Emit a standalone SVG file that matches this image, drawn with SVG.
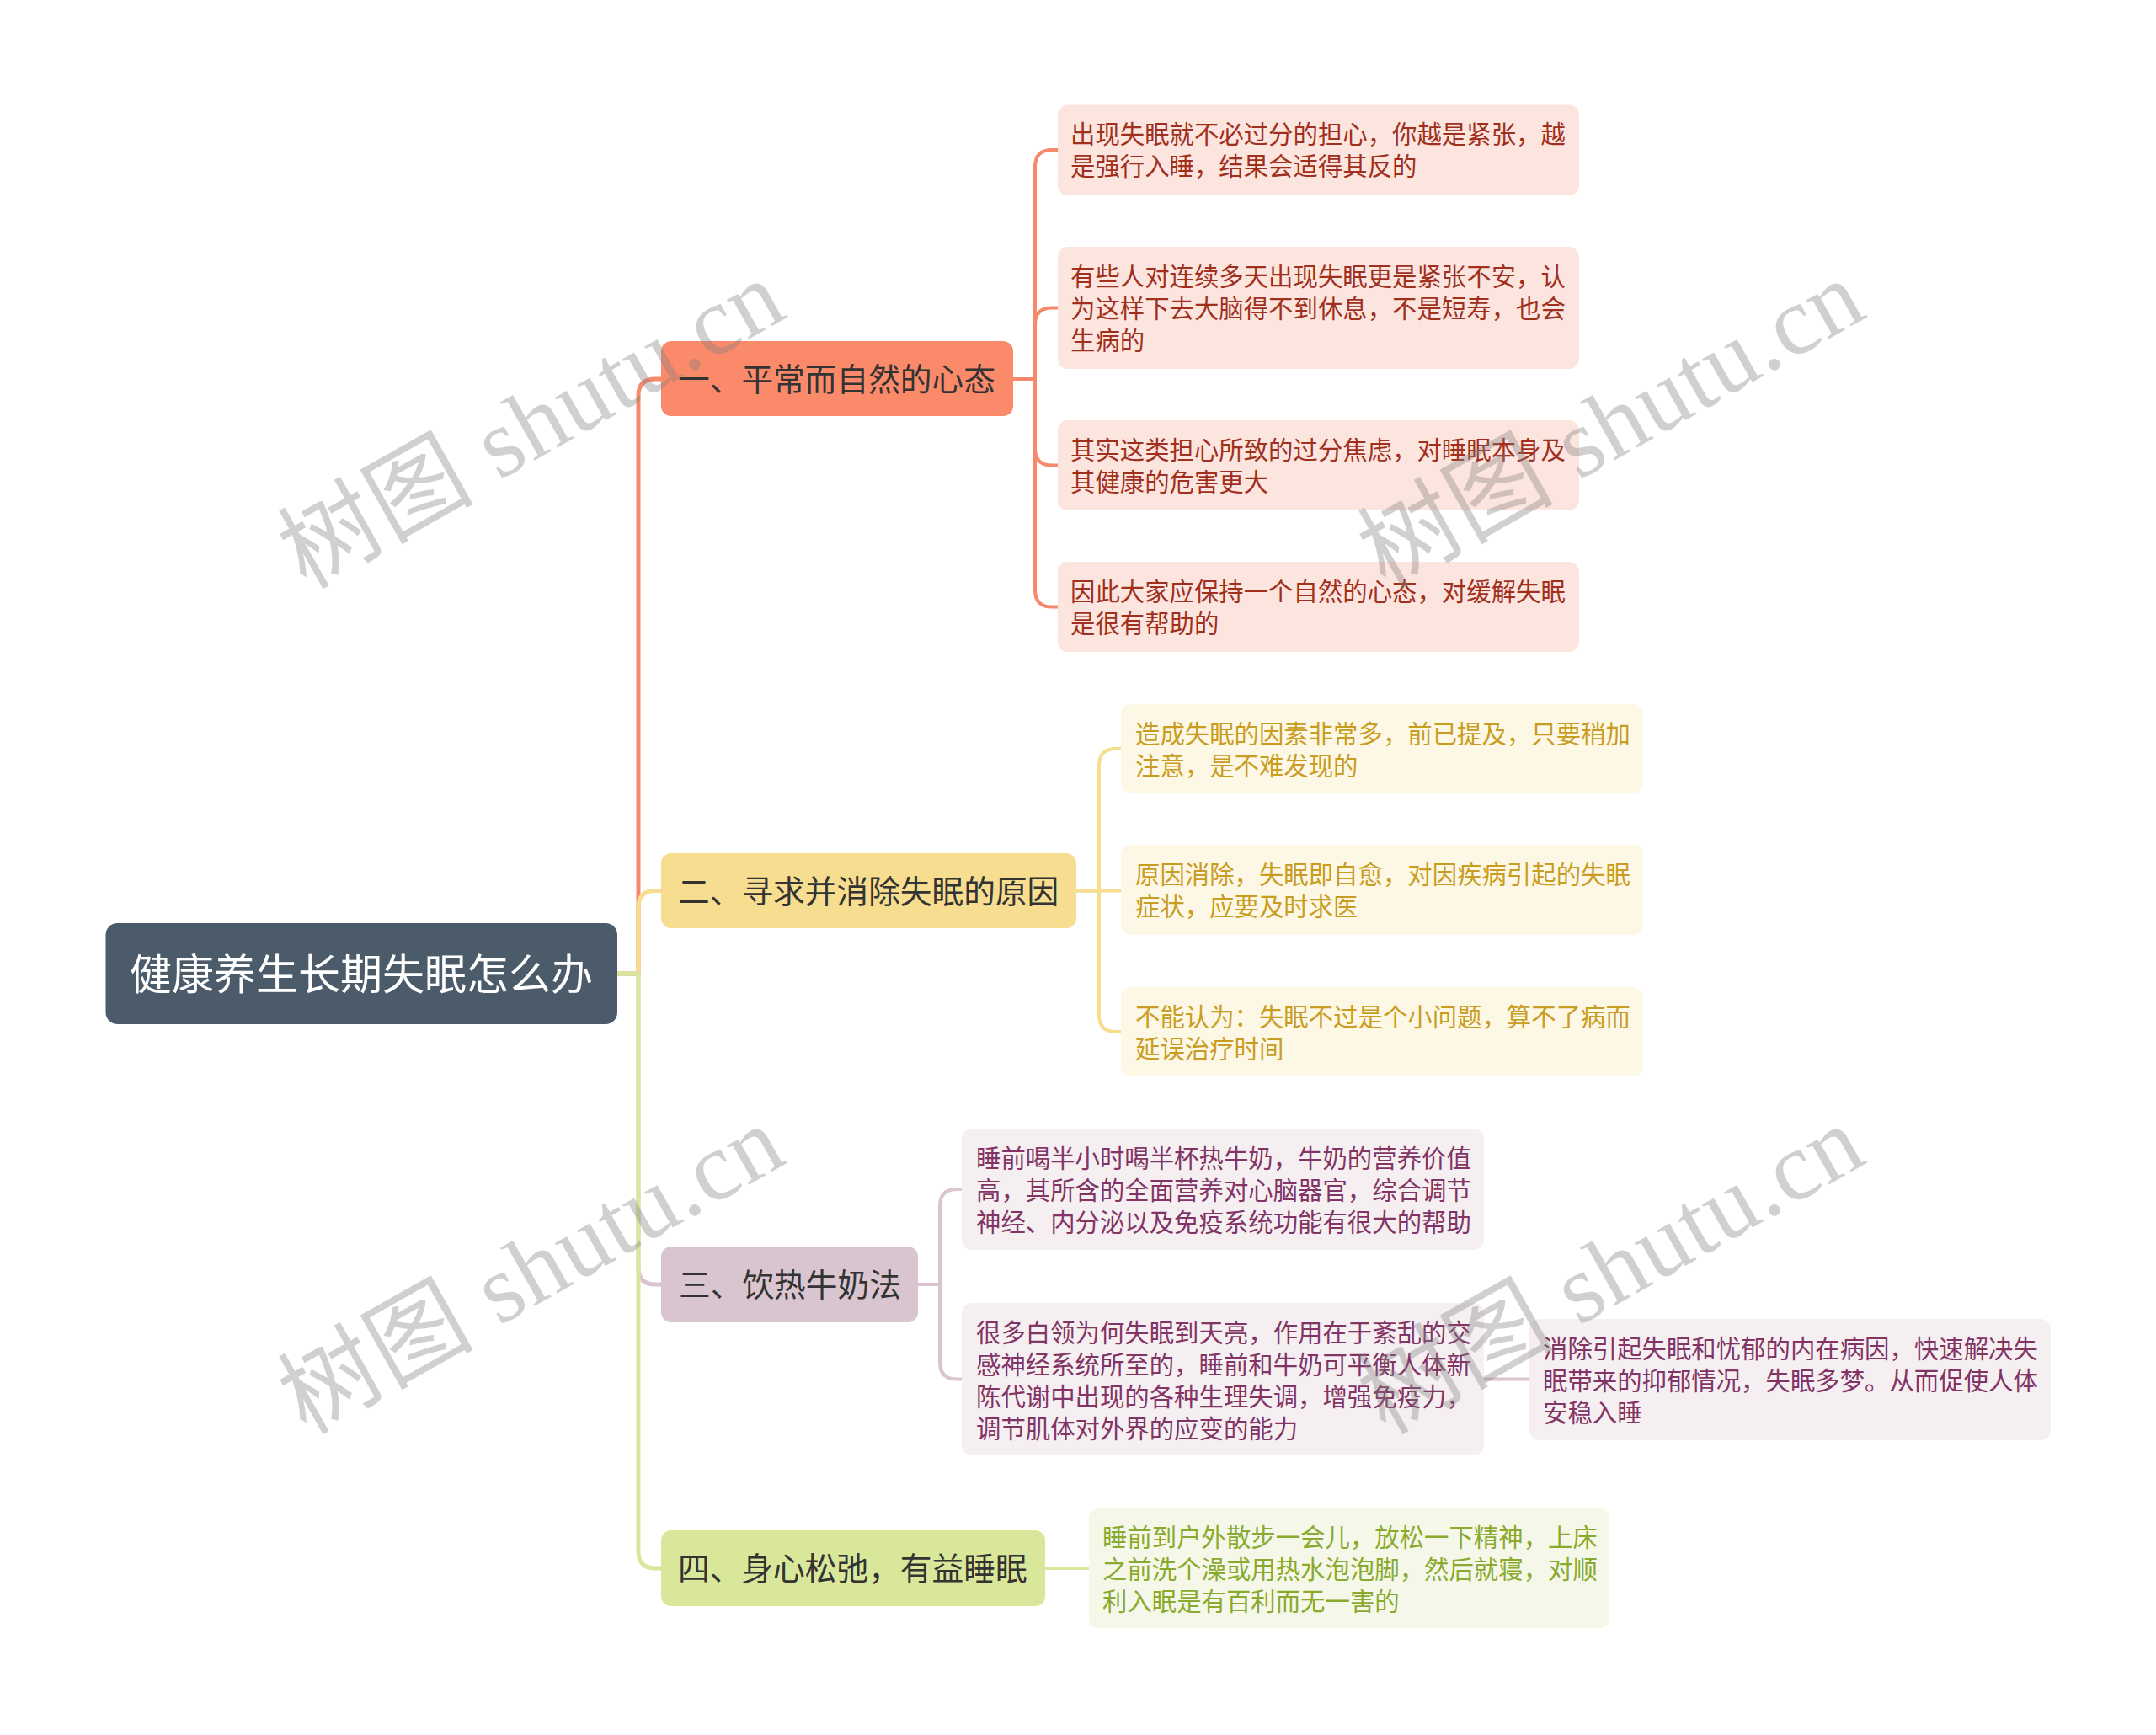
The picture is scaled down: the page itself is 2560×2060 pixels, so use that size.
<svg xmlns="http://www.w3.org/2000/svg" width="2560" height="2060" viewBox="0 0 2560 2060">
<style>
.t{font-family:"Noto Sans CJK SC","Noto Sans",sans-serif;}
.main{font-size:37.7px;fill:#333333;}
.sub{font-size:29.4px;}
.c{fill:none;stroke-linecap:round;stroke-linejoin:round;}
.b1{stroke:#f6896b;}
.b2{stroke:#f6dd90;}
.b3{stroke:#d9c4cf;}
.b4{stroke:#d9e69b;}
.wm{font-family:"Liberation Serif","Noto Sans CJK SC",serif;font-size:116px;fill:#808080;opacity:0.36;}
</style>
<rect width="2560" height="2060" fill="#ffffff"/>
<g id="connectors">
  <g stroke-width="5">
    <path class="c b1" d="M733,1156 H758 V470 Q758,450 778,450 H786"/>
    <path class="c b2" d="M733,1156 H758 V1077.5 Q758,1057.5 778,1057.5 H786"/>
    <path class="c b3" d="M733,1156 H758 V1505 Q758,1525 778,1525 H786"/>
    <path class="c b4" d="M733,1156 H758 V1842 Q758,1862 778,1862 H786"/>
  </g>
  <g stroke-width="4">
    <path class="c b1" d="M1203,450 H1229 V198 Q1229,178 1249,178 H1257"/>
    <path class="c b1" d="M1203,450 H1229 V385.5 Q1229,365.5 1249,365.5 H1257"/>
    <path class="c b1" d="M1203,450 H1229 V532.5 Q1229,552.5 1249,552.5 H1257"/>
    <path class="c b1" d="M1203,450 H1229 V700.5 Q1229,720.5 1249,720.5 H1257"/>
    <path class="c b2" d="M1278,1057.5 H1305 V909 Q1305,889 1325,889 H1332"/>
    <path class="c b2" d="M1278,1057.5 H1332"/>
    <path class="c b2" d="M1278,1057.5 H1305 V1205 Q1305,1225 1325,1225 H1332"/>
    <path class="c b3" d="M1090,1525 H1116 V1432 Q1116,1412 1136,1412 H1143"/>
    <path class="c b3" d="M1090,1525 H1116 V1617.5 Q1116,1637.5 1136,1637.5 H1143"/>
    <path class="c b3" d="M1762,1637.5 H1816"/>
    <path class="c b4" d="M1241,1862 H1293"/>
  </g>
</g>
<g id="root">
  <rect x="125.5" y="1096" width="607.5" height="120" rx="14" fill="#4b5b6a"/>
  <text class="t" x="429" y="1175" font-size="50" fill="#ffffff" text-anchor="middle">健康养生长期失眠怎么办</text>
</g>
<g id="n1">
  <rect x="785" y="405" width="418" height="89" rx="12" fill="#fb8a6b"/>
  <text class="t main" x="805" y="464">一、平常而自然的心态</text>
</g>
<g id="n2">
  <rect x="785" y="1013" width="493" height="89" rx="12" fill="#f7dd8f"/>
  <text class="t main" x="805" y="1072">二、寻求并消除失眠的原因</text>
</g>
<g id="n3">
  <rect x="785" y="1480" width="305" height="90" rx="12" fill="#d9c5cf"/>
  <text class="t main" x="806" y="1539">三、饮热牛奶法</text>
</g>
<g id="n4">
  <rect x="785" y="1817" width="456" height="90" rx="12" fill="#d9e79a"/>
  <text class="t main" x="805" y="1876">四、身心松弛，有益睡眠</text>
</g>
<g id="n1c1">
  <rect x="1256" y="124.5" width="619" height="107.5" rx="12" fill="#fde5df"/>
  <text class="t sub" fill="#a0301d"><tspan x="1271" y="170">出现失眠就不必过分的担心，你越是紧张，越</tspan><tspan x="1271" y="208">是强行入睡，结果会适得其反的</tspan></text>
</g>
<g id="n1c2">
  <rect x="1256" y="293" width="619" height="145" rx="12" fill="#fde5df"/>
  <text class="t sub" fill="#a0301d"><tspan x="1271" y="338.5">有些人对连续多天出现失眠更是紧张不安，认</tspan><tspan x="1271" y="376.5">为这样下去大脑得不到休息，不是短寿，也会</tspan><tspan x="1271" y="414.5">生病的</tspan></text>
</g>
<g id="n1c3">
  <rect x="1256" y="499" width="619" height="107" rx="12" fill="#fde5df"/>
  <text class="t sub" fill="#a0301d"><tspan x="1271" y="544.5">其实这类担心所致的过分焦虑，对睡眠本身及</tspan><tspan x="1271" y="582.5">其健康的危害更大</tspan></text>
</g>
<g id="n1c4">
  <rect x="1256" y="667" width="619" height="107" rx="12" fill="#fde5df"/>
  <text class="t sub" fill="#a0301d"><tspan x="1271" y="712.5">因此大家应保持一个自然的心态，对缓解失眠</tspan><tspan x="1271" y="750.5">是很有帮助的</tspan></text>
</g>
<g id="n2c1">
  <rect x="1331" y="836" width="620" height="106" rx="12" fill="#fdf8e6"/>
  <text class="t sub" fill="#c99c22"><tspan x="1348" y="881.5">造成失眠的因素非常多，前已提及，只要稍加</tspan><tspan x="1348" y="919.5">注意，是不难发现的</tspan></text>
</g>
<g id="n2c2">
  <rect x="1331" y="1003" width="620" height="107" rx="12" fill="#fdf8e6"/>
  <text class="t sub" fill="#c99c22"><tspan x="1348" y="1048.5">原因消除，失眠即自愈，对因疾病引起的失眠</tspan><tspan x="1348" y="1086.5">症状，应要及时求医</tspan></text>
</g>
<g id="n2c3">
  <rect x="1331" y="1172" width="620" height="106" rx="12" fill="#fdf8e6"/>
  <text class="t sub" fill="#c99c22"><tspan x="1348" y="1217.5">不能认为：失眠不过是个小问题，算不了病而</tspan><tspan x="1348" y="1255.5">延误治疗时间</tspan></text>
</g>
<g id="n3c1">
  <rect x="1142" y="1340" width="620" height="144" rx="12" fill="#f6eff2"/>
  <text class="t sub" fill="#823465"><tspan x="1159" y="1385.5">睡前喝半小时喝半杯热牛奶，牛奶的营养价值</tspan><tspan x="1159" y="1423.5">高，其所含的全面营养对心脑器官，综合调节</tspan><tspan x="1159" y="1461.5">神经、内分泌以及免疫系统功能有很大的帮助</tspan></text>
</g>
<g id="n3c2">
  <rect x="1142" y="1547" width="620" height="181" rx="12" fill="#f6eff2"/>
  <text class="t sub" fill="#823465"><tspan x="1159" y="1592.5">很多白领为何失眠到天亮，作用在于紊乱的交</tspan><tspan x="1159" y="1630.5">感神经系统所至的，睡前和牛奶可平衡人体新</tspan><tspan x="1159" y="1668.5">陈代谢中出现的各种生理失调，增强免疫力，</tspan><tspan x="1159" y="1706.5">调节肌体对外界的应变的能力</tspan></text>
</g>
<g id="n3c2c1">
  <rect x="1816" y="1566" width="619" height="144" rx="12" fill="#f6eff2"/>
  <text class="t sub" fill="#823465"><tspan x="1832" y="1611.5">消除引起失眠和忧郁的内在病因，快速解决失</tspan><tspan x="1832" y="1649.5">眠带来的抑郁情况，失眠多梦。从而促使人体</tspan><tspan x="1832" y="1687.5">安稳入睡</tspan></text>
</g>
<g id="n4c1">
  <rect x="1293" y="1790.5" width="618" height="143" rx="12" fill="#f5f8e8"/>
  <text class="t sub" fill="#89aa2f"><tspan x="1309" y="1835.5">睡前到户外散步一会儿，放松一下精神，上床</tspan><tspan x="1309" y="1873.5">之前洗个澡或用热水泡泡脚，然后就寝，对顺</tspan><tspan x="1309" y="1911.5">利入眠是有百利而无一害的</tspan></text>
</g>
<g id="watermarks">
  <text class="wm" x="650" y="538" text-anchor="middle" textLength="660" lengthAdjust="spacing" transform="rotate(-29.5 650 538)">树图 shutu.cn</text>
  <text class="wm" x="1932" y="538" text-anchor="middle" textLength="660" lengthAdjust="spacing" transform="rotate(-29.5 1932 538)">树图 shutu.cn</text>
  <text class="wm" x="650" y="1542" text-anchor="middle" textLength="660" lengthAdjust="spacing" transform="rotate(-29.5 650 1542)">树图 shutu.cn</text>
  <text class="wm" x="1932" y="1542" text-anchor="middle" textLength="660" lengthAdjust="spacing" transform="rotate(-29.5 1932 1542)">树图 shutu.cn</text>
</g>
</svg>
